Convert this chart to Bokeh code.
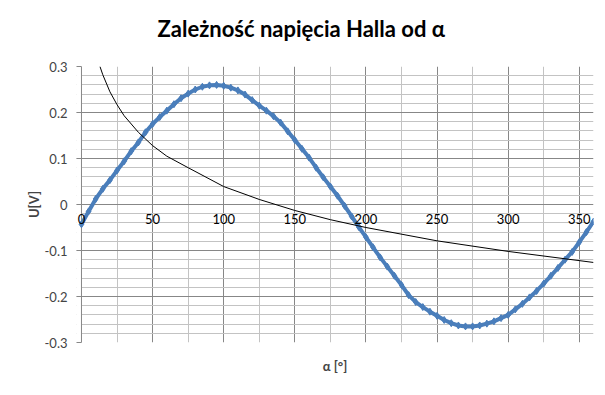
from bokeh.plotting import figure
from bokeh.embed import file_html
from bokeh.resources import INLINE
from bokeh.models import (FixedTicker, LinearAxis, CustomJSTickFormatter, Title,
                          ColumnDataSource, Label, BoxAnnotation, Span)

# ---- data ----
alpha = [0, 5, 10, 15, 20, 25, 30, 35, 40, 45, 50, 55, 60, 65, 70, 75, 80, 85, 90, 95,
         100, 105, 110, 115, 120, 125, 130, 135, 140, 145, 150, 155, 160, 165, 170, 175,
         180, 185, 190, 195, 200, 205, 210, 215, 220, 225, 230, 235, 240, 245, 250, 255,
         260, 265, 270, 275, 280, 285, 290, 295, 300, 305, 310, 315, 320, 325, 330, 335,
         340, 345, 350, 355, 360]
u_hall = [-0.043, -0.015, 0.012, 0.034, 0.053, 0.074, 0.094, 0.116, 0.135, 0.157,
          0.175, 0.190, 0.204, 0.218, 0.231, 0.241, 0.250, 0.256, 0.259, 0.260,
          0.258, 0.254, 0.248, 0.239, 0.227, 0.215, 0.204, 0.192, 0.178, 0.159,
          0.140, 0.121, 0.102, 0.080, 0.059, 0.039, 0.019, -0.003, -0.026, -0.049,
          -0.071, -0.093, -0.115, -0.135, -0.155, -0.175, -0.197, -0.212, -0.223, -0.233,
          -0.242, -0.251, -0.258, -0.263, -0.265, -0.265, -0.263, -0.259, -0.254, -0.247,
          -0.240, -0.228, -0.216, -0.202, -0.188, -0.172, -0.155, -0.138, -0.120, -0.103,
          -0.082, -0.060, -0.037]

trend_alpha = [13, 15, 20, 25, 30, 40, 50, 60, 75, 100, 125, 150, 175, 200, 250, 300, 360]
trend_u = [0.300, 0.282, 0.245, 0.217, 0.193, 0.157, 0.128, 0.105, 0.080, 0.039,
           0.011, -0.013, -0.033, -0.050, -0.079, -0.102, -0.126]

x_major = [0, 50, 100, 150, 200, 250, 300, 350]
x_tick_labels = ["0", "50", "100", "150", "200", "250", "300", "350"]
x_minor = [25, 75, 125, 175, 225, 275, 325]
y_major = [-0.3, -0.2, -0.1, 0, 0.1, 0.2, 0.3]
y_minor = [-0.28, -0.26, -0.24, -0.22, -0.18, -0.16, -0.14, -0.12, -0.08, -0.06, -0.04, -0.02,
           0.02, 0.04, 0.06, 0.08, 0.12, 0.14, 0.16, 0.18, 0.22, 0.24, 0.26, 0.28]

title_text = "Zależność napięcia Halla od α"
x_label = "α [°]"
y_label = "U[V]"

FONT = "Lato"
MAJOR = "#878787"
MINOR = "#c3c3c3"
BLUE = "#4a7ebb"

# the frame starts a few pixels left of alpha = 0 so that the "0" tick label fits inside it
X_START = -3.5

p = figure(width=605, height=395, x_range=(X_START, 360), y_range=(-0.3, 0.3),
           output_backend="svg", toolbar_location=None,
           x_axis_location=None, y_axis_location=None,
           min_border_left=76, min_border_right=12, min_border_top=66, min_border_bottom=53)
p.outline_line_color = None
p.background_fill_color = "white"
p.border_fill_color = "white"
p.title.visible = False

# titles above: spacer first (closest to the frame), then the main title
p.add_layout(Title(text=" ", text_font=FONT, text_font_size="7px"), "above")
p.add_layout(Title(text=title_text, align="left", offset=81, text_font=FONT,
                   text_font_size="22px", text_font_style="bold", text_color="#000000"), "above")

# y axis (its line is hidden; ticks reach from the frame edge to alpha = 0)
yax = LinearAxis(ticker=FixedTicker(ticks=y_major, minor_ticks=y_minor))
yax.formatter = CustomJSTickFormatter(code="return (Math.round(tick*10)/10).toString();")
yax.axis_label = y_label
yax.axis_label_text_font = FONT
yax.axis_label_text_font_size = "13px"
yax.axis_label_text_font_style = "bold"
yax.axis_label_standoff = 0
yax.major_label_text_font = FONT
yax.major_label_text_font_size = "13px"
yax.major_label_standoff = 5
yax.axis_line_color = None
yax.major_tick_line_color = MAJOR
yax.major_tick_out = 0
yax.major_tick_in = 5
yax.minor_tick_line_color = None
p.add_layout(yax, "left")

# x-axis title below (an axis without ticks, only its label)
xlab_axis = LinearAxis(ticker=FixedTicker(ticks=[]))
xlab_axis.axis_line_color = None
xlab_axis.major_tick_line_color = None
xlab_axis.minor_tick_line_color = None
xlab_axis.major_tick_out = 0
xlab_axis.major_label_standoff = 0
xlab_axis.axis_label = x_label
xlab_axis.axis_label_text_font = FONT
xlab_axis.axis_label_text_font_size = "13px"
xlab_axis.axis_label_text_font_style = "bold"
xlab_axis.axis_label_standoff = 15
p.add_layout(xlab_axis, "below")

# grids (the U = 0 major grid line acts as the x axis line)
p.xgrid.ticker = FixedTicker(ticks=x_major, minor_ticks=x_minor)
p.ygrid.ticker = FixedTicker(ticks=y_major, minor_ticks=y_minor)
for g in (p.xgrid, p.ygrid):
    g.grid_line_color = MAJOR
    g.grid_line_width = 1
    g.minor_grid_line_color = MINOR
    g.minor_grid_line_width = 1

# blank the strip left of alpha = 0, then draw the vertical axis line at alpha = 0
p.add_layout(BoxAnnotation(left=X_START, right=0, fill_color="white", fill_alpha=1.0,
                           line_color=None, level="underlay"))
p.add_layout(Span(location=0, dimension="height", line_color=MAJOR, line_width=1,
                  level="underlay"))

src = ColumnDataSource(dict(a=alpha, u=u_hall))
p.line("a", "u", source=src, line_color=BLUE, line_width=4)
p.scatter("a", "u", source=src, marker="diamond", size=7, fill_color=BLUE, line_color=BLUE)

p.line(trend_alpha, trend_u, line_color="black", line_width=1)

# x tick labels sitting under the U = 0 line
for xv, t in zip(x_major, x_tick_labels):
    p.add_layout(Label(x=xv, y=0, text=t, y_offset=-9, level="overlay",
                       text_align="center", text_baseline="top",
                       text_font=FONT, text_font_size="13px", text_color="#000000"))

open("out.html", "w").write(file_html(p, INLINE))
